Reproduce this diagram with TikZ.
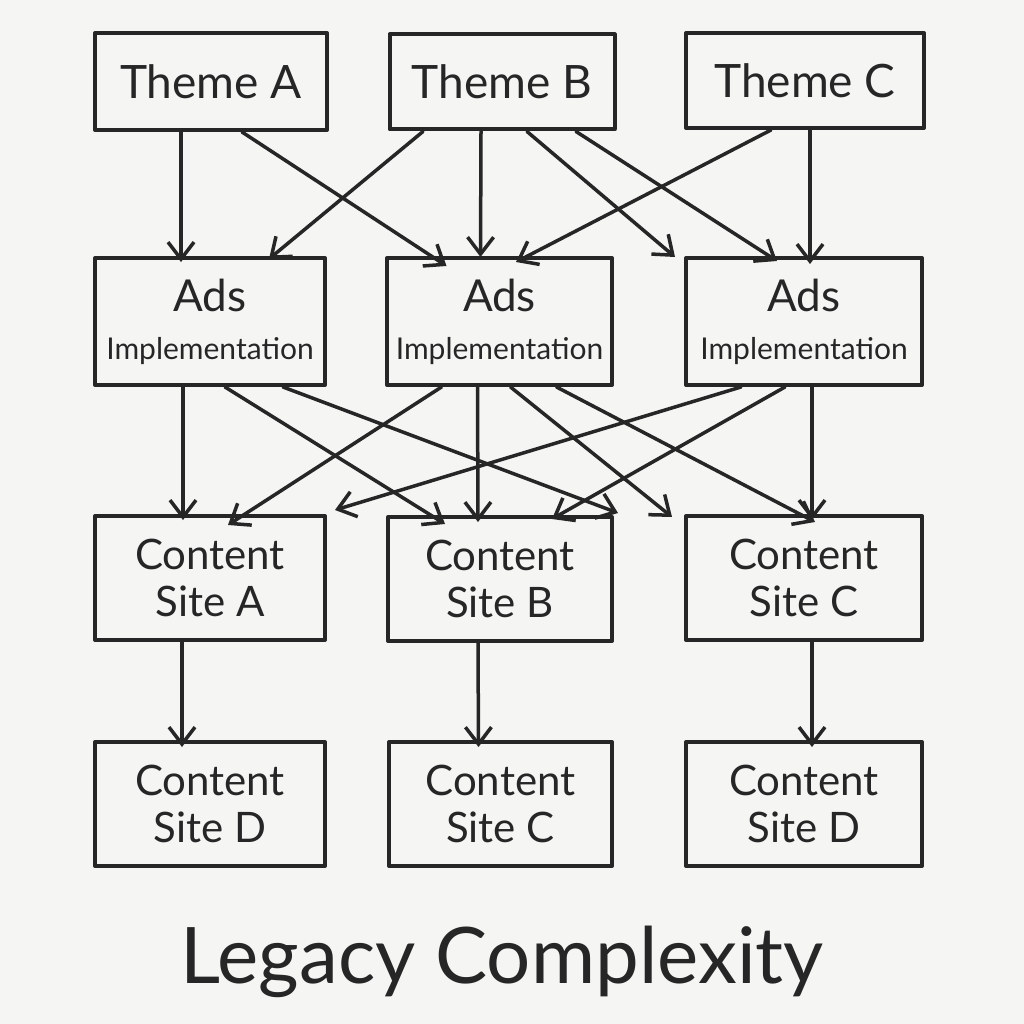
\documentclass[tikz,border=0pt]{standalone}
\usepackage{fontspec}
\setmainfont{Lato}
\usetikzlibrary{arrows.meta}
\definecolor{ink}{HTML}{262626}
\definecolor{paper}{HTML}{F5F5F3}
\begin{document}
\begin{tikzpicture}[x=1pt,y=-1pt,
  box/.style={draw=ink,line width=4pt,line join=round,text=ink,align=center,inner sep=0pt},
  themebox/.style={box,font=\fontsize{46}{50}\selectfont},
  adsbox/.style={box,minimum height=127pt,font=\fontsize{44}{48}\selectfont},
  sitebox/.style={box,font=\fontsize{42}{47}\selectfont,minimum height=124pt},
  arr/.style={draw=ink,line width=3.5pt,line cap=round,-{Straight Barb[length=17pt,width=26pt,line width=3.5pt]}}]
\fill[paper] (0,0) rectangle (1024,1024);
\useasboundingbox (0,0) rectangle (1024,1024);
% row 1
\node[themebox,minimum width=232pt,minimum height=97pt] (TA) at (211,81.5) {Theme A};
\node[themebox,minimum width=225pt,minimum height=95pt] (TB) at (502,82) {Theme B};
\node[themebox,minimum width=238pt,minimum height=95pt] (TC) at (805,80.5) {Theme C};
% row 2
\node[adsbox,minimum width=230pt] (A1) at (210,321.5) {\strut Ads\\\fontsize{30}{48}\selectfont Implementation};
\node[adsbox,minimum width=225pt] (A2) at (499.5,321.5) {\strut Ads\\\fontsize{30}{48}\selectfont Implementation};
\node[adsbox,minimum width=236pt] (A3) at (804,321.5) {\strut Ads\\\fontsize{30}{48}\selectfont Implementation};
% row 3
\node[sitebox,minimum width=230pt] (CA) at (210,578) {Content\\Site A};
\node[sitebox,minimum width=224pt] (CB) at (500,579) {Content\\Site B};
\node[sitebox,minimum width=236pt] (CC) at (804,578) {Content\\Site C};
% row 4
\node[sitebox,minimum width=230pt] (DA) at (210,804) {Content\\Site D};
\node[sitebox,minimum width=223pt] (DB) at (500.5,804) {Content\\Site C};
\node[sitebox,minimum width=236pt] (DC) at (804,804) {Content\\Site D};
% title
\node[text=ink,font=\fontsize{78}{80}\selectfont] (title) at (502,962) {Legacy Complexity};
% row 1 -> row 2
\draw[arr] ([xshift=-30pt]TA.south) -- ([xshift=-29pt,yshift=-6pt]A1.north);
\draw[arr] ([xshift=31pt]TA.south) -- ([xshift=-53pt,yshift=-10pt]A2.north);
\draw[arr] ([xshift=-79pt]TB.south) -- ([xshift=59pt,yshift=-3pt]A1.north);
\draw[arr] ([xshift=-21pt]TB.south) -- ([xshift=-19pt,yshift=-1pt]A2.north);
\draw[arr] ([xshift=25pt]TB.south) -- ([xshift=-129pt,yshift=-1pt]A3.north);
\draw[arr] ([xshift=74pt]TB.south) -- ([xshift=-27pt,yshift=-5pt]A3.north);
\draw[arr] ([xshift=-34pt]TC.south) -- ([xshift=16.5pt,yshift=-6pt]A2.north);
\draw[arr] ([xshift=5pt]TC.south) -- ([xshift=6pt,yshift=-8pt]A3.north);
% row 2 -> row 3
\draw[arr] ([xshift=-27pt]A1.south) -- ([xshift=-27pt,yshift=-6pt]CA.north);
\draw[arr] ([xshift=15pt]A1.south) -- ([xshift=-55pt,yshift=-9pt]CB.north);
\draw[arr] ([xshift=73pt]A1.south) -- ([xshift=118pt,yshift=2pt]CB.north);
\draw[arr] ([xshift=-58pt]A2.south) -- ([xshift=18pt,yshift=-11pt]CA.north);
\draw[arr] ([xshift=-22pt]A2.south) -- ([xshift=-22pt,yshift=-7pt]CB.north);
\draw[arr] ([xshift=11pt]A2.south) -- ([xshift=-132pt,yshift=-3pt]CC.north);
\draw[arr] ([xshift=57pt]A2.south) -- ([xshift=11pt,yshift=-8pt]CC.north);
\draw[arr] ([xshift=-63pt]A3.south) -- ([xshift=125pt,yshift=4pt]CA.north);
\draw[arr] ([xshift=-19pt]A3.south) -- ([xshift=52pt,yshift=-4pt]CB.north);
\draw[arr] ([xshift=8pt]A3.south) -- ([xshift=8pt,yshift=-6pt]CC.north);
% row 3 -> row 4
\draw[arr] ([xshift=-28pt]CA.south) -- ([xshift=-28pt,yshift=-7pt]DA.north);
\draw[arr] ([xshift=-22pt]CB.south) -- ([xshift=-22pt,yshift=-7pt]DB.north);
\draw[arr] ([xshift=8pt]CC.south) -- ([xshift=8pt,yshift=-7pt]DC.north);
\end{tikzpicture}
\end{document}
